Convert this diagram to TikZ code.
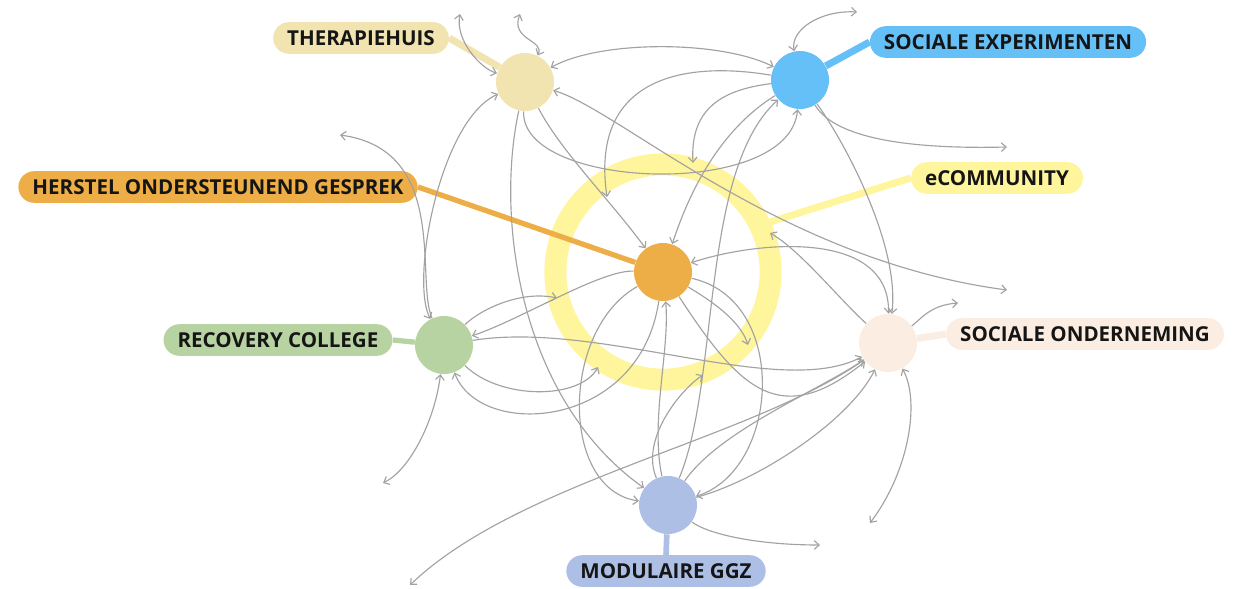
\documentclass[tikz,border=0pt]{standalone}
\usepackage{fontspec}
\setmainfont{Open Sans}
\usetikzlibrary{arrows.meta}
\definecolor{thcol}{HTML}{F2E4B0}
\definecolor{secol}{HTML}{66C0F8}
\definecolor{eccol}{HTML}{FFF59C}
\definecolor{hocol}{HTML}{EDAE48}
\definecolor{rccol}{HTML}{B8D3A2}
\definecolor{socol}{HTML}{FBEDE1}
\definecolor{mgcol}{HTML}{AEBFE6}
\definecolor{flowgray}{HTML}{A2A2A2}
\definecolor{inkcol}{HTML}{151515}

\begin{document}
\begin{tikzpicture}[x=0.2mm, y=-0.2mm,
    hub/.style={circle, minimum size=33pt, inner sep=0pt},
    pill/.style={rounded corners=9pt, inner xsep=8pt, inner ysep=0pt, minimum height=18pt,
        text height=8.6pt, text depth=0.2pt, text=inkcol, font=\bfseries\fontsize{11.7}{13}\selectfont},
    stem/.style={line width=4pt},
    flow/.style={draw=flowgray, line width=0.65pt, -{Straight Barb[length=2.8pt,width=5pt]}},
    flowb/.style={draw=flowgray, line width=0.65pt, {Straight Barb[length=2.8pt,width=5pt]}-{Straight Barb[length=2.8pt,width=5pt]}}]
    \useasboundingbox (0,0) rectangle (1234,588);

    % ring and hubs
    \node[circle, draw=eccol, line width=12.5pt, minimum size=122.5pt, inner sep=0pt] (ring) at (663,272) {};
    \node[hub, fill=thcol] (T) at (525,82) {};
    \node[hub, fill=secol] (S) at (800,80) {};
    \node[hub, fill=hocol] (H) at (663,272) {};
    \node[hub, fill=rccol] (R) at (444,345) {};
    \node[hub, fill=socol] (O) at (888,343) {};
    \node[hub, fill=mgcol] (M) at (668,505) {};

    % labels
    \node[pill, fill=thcol] (Tl) at (361,38) {THERAPIEHUIS};
    \node[pill, fill=secol] (Sl) at (1008,42) {SOCIALE EXPERIMENTEN};
    \node[pill, fill=eccol] (El) at (997,178) {eCOMMUNITY};
    \node[pill, fill=hocol] (Hl) at (218,187) {HERSTEL ONDERSTEUNEND GESPREK};
    \node[pill, fill=rccol] (Rl) at (278,340) {RECOVERY COLLEGE};
    \node[pill, fill=socol] (Ol) at (1085,334) {SOCIALE ONDERNEMING};
    \node[pill, fill=mgcol] (Ml) at (666,571) {MODULAIRE GGZ};

    \draw[stem, thcol] (Tl.east) -- (T);
    \draw[stem, secol] (Sl.west) -- (S);
    \draw[stem, eccol] (El.west) -- (ring.25);
    \draw[stem, hocol, line width=3pt] (Hl.east) -- (H);
    \draw[stem, rccol, line width=3pt] (Rl.east) -- (R);
    \draw[stem, socol] (Ol.west) -- (O);
    \draw[stem, mgcol, line width=3.2pt] (Ml.north) -- (M);

    % free ends
    \coordinate (up1) at (460,14);
    \coordinate (up2) at (520,14);
    \coordinate (ne1) at (857,12);
    \coordinate (e1) at (1007,147);
    \coordinate (e2) at (1007,290);
    \coordinate (w1) at (340,135);
    \coordinate (e3) at (958,303);
    \coordinate (s1) at (870,523);
    \coordinate (s2) at (820,545);
    \coordinate (sw1) at (410,585);
    \coordinate (sw2) at (383,483);
    % ends on the ring
    \coordinate (r1) at (607,197);
    \coordinate (r2) at (693,163);
    \coordinate (r3) at (770,233);
    \coordinate (r4) at (748,345);
    \coordinate (r5) at (703,375);
    \coordinate (r6) at (557,298);
    \coordinate (r7) at (598,367);

    % flows
    \draw[flowb] (up1) .. controls (455,40) and (480,68) .. (T);
    \draw[flowb] (up2) .. controls (510,40) and (545,40) .. (T);
    \draw[flowb] (S) .. controls (720,40) and (600,40) .. (T);
    \draw[flow] (S) .. controls (680,60) and (590,80) .. (r1);
    \draw[flowb] (T) .. controls (440,120) and (410,280) .. (R);
    \draw[flow] (T) .. controls (520,190) and (790,200) .. (S);
    \draw[flow] (S) .. controls (720,90) and (690,110) .. (r2);
    \draw[flowb] (T) .. controls (620,110) and (780,260) .. (e2);
    \draw[flow] (T) .. controls (560,150) and (610,200) .. (H);
    \draw[flow] (T) .. controls (495,220) and (520,400) .. (M);
    \draw[flow] (R) .. controls (415,280) and (450,150) .. (w1);
    \draw[flowb] (R) .. controls (435,420) and (410,470) .. (sw2);
    \draw[flow] (R) .. controls (480,310) and (520,290) .. (r6);
    \draw[flow] (R) .. controls (500,400) and (580,400) .. (r7);
    \draw[flow] (H) .. controls (640,430) and (480,440) .. (R);
    \draw[flow] (H) .. controls (600,270) and (520,320) .. (R);
    \draw[flow] (R) .. controls (600,320) and (780,400) .. (O);
    \draw[flow] (S) .. controls (720,130) and (690,190) .. (H);
    \draw[flow] (S) .. controls (850,150) and (900,250) .. (O);
    \draw[flow] (S) .. controls (830,130) and (880,150) .. (e1);
    \draw[flowb] (S) .. controls (790,30) and (820,10) .. (ne1);
    \draw[flow] (M) .. controls (720,380) and (700,170) .. (S);
    \draw[flowb] (H) .. controls (760,240) and (890,230) .. (O);
    \draw[flow] (O) .. controls (840,300) and (800,250) .. (r3);
    \draw[flow] (O) .. controls (920,320) and (930,305) .. (e3);
    \draw[flowb] (O) .. controls (920,400) and (910,470) .. (s1);
    \draw[flow] (O) .. controls (750,440) and (520,480) .. (sw1);
    \draw[flow] (M) .. controls (760,480) and (850,420) .. (O);
    \draw[flow] (M) .. controls (720,430) and (820,390) .. (O);
    \draw[flow] (M) .. controls (710,535) and (760,545) .. (s2);
    \draw[flow] (M) .. controls (640,440) and (680,390) .. (r5);
    \draw[flow] (H) .. controls (560,330) and (560,490) .. (M);
    \draw[flow] (M) .. controls (650,420) and (670,350) .. (H);
    \draw[flow] (H) .. controls (710,300) and (740,320) .. (r4);
    \draw[flow] (H) .. controls (790,300) and (780,470) .. (M);
    \draw[flow] (H) .. controls (740,390) and (780,430) .. (O);
\end{tikzpicture}
\end{document}
